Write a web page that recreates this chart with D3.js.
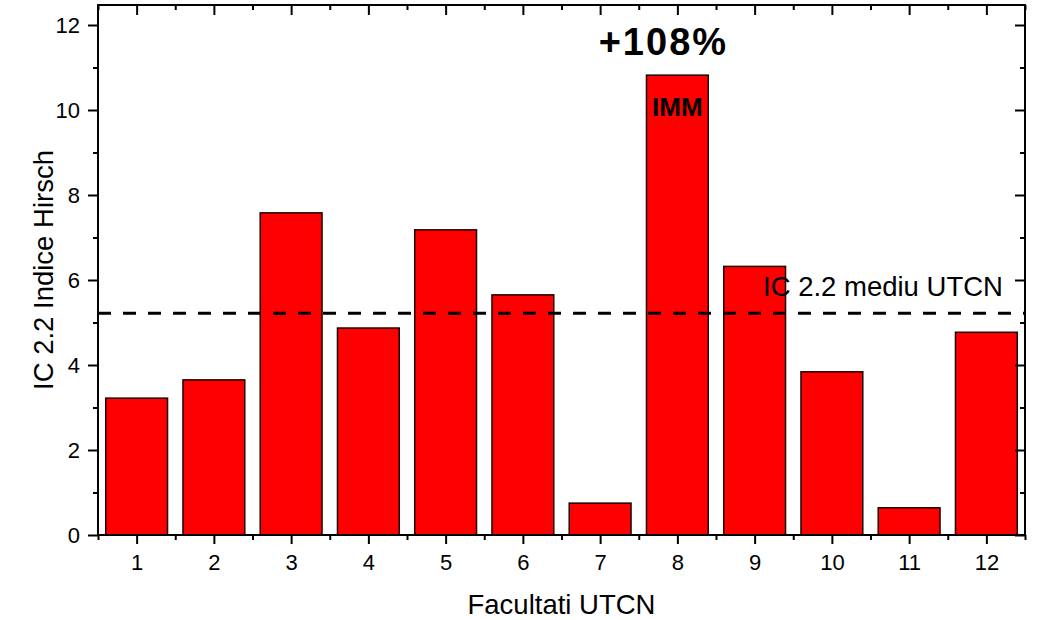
<!DOCTYPE html>
<html>
<head>
<meta charset="utf-8">
<script src="https://cdn.jsdelivr.net/npm/d3@7"></script>
<style>
  html, body { margin: 0; padding: 0; background: #fff; }
  svg { display: block; }
  text { font-family: "Liberation Sans", Arial, sans-serif; fill: #000; }
</style>
</head>
<body>
<svg id="chart" width="1041" height="620"></svg>
<script>
const categories = [1, 2, 3, 4, 5, 6, 7, 8, 9, 10, 11, 12];
const values = [3.22, 3.65, 7.58, 4.87, 7.18, 5.65, 0.75, 10.82, 6.32, 3.84, 0.64, 4.77];
const meanValue = 5.22;
const meanLabel = "IC 2.2 mediu UTCN";
const yTicks = [0, 2, 4, 6, 8, 10, 12];
const yMinorTicks = [1, 3, 5, 7, 9, 11];
const xMinorTicks = [0.5, 1.5, 2.5, 3.5, 4.5, 5.5, 6.5, 7.5, 8.5, 9.5, 10.5, 11.5, 12.5];
const xTitle = "Facultati UTCN";
const yTitle = "IC 2.2 Indice Hirsch";
const highlightCategory = 8;
const highlightLabel = "IMM";
const highlightPercent = "+108%";

const svg = d3.select("#chart");
const L = 98, R = 1025, T = 5, B = 535;

const x = d3.scaleLinear().domain([0.5, 12.5]).range([L, R]);
const y = d3.scaleLinear().domain([0, (B - T) / 42.5]).range([B, T]);
const barW = (x(1) - x(0)) * 0.8;

// bars
svg.append("g").selectAll("rect").data(categories).join("rect")
  .attr("x", (d) => x(d) - barW / 2)
  .attr("y", (d, i) => y(values[i]))
  .attr("width", barW)
  .attr("height", (d, i) => y(0) - y(values[i]))
  .attr("fill", "#ff0000")
  .attr("stroke", "#1a0000")
  .attr("stroke-width", 1.5);

// mean line
svg.append("line")
  .attr("x1", L).attr("x2", R)
  .attr("y1", y(meanValue)).attr("y2", y(meanValue))
  .attr("stroke", "#000").attr("stroke-width", 3)
  .attr("stroke-dasharray", "13,12");

svg.append("text")
  .attr("x", 763).attr("y", y(meanValue) - 17.5)
  .attr("font-size", 27.5)
  .text(meanLabel);

// axes
function styleAxis(g) {
  g.select(".domain").remove();
  g.selectAll(".tick line").attr("stroke", "#000").attr("stroke-width", 2);
  g.selectAll("text").attr("font-family", '"Liberation Sans", Arial, sans-serif').attr("fill", "#000");
}

svg.append("g").attr("transform", `translate(0,${B})`)
  .call(d3.axisBottom(x).tickValues(categories).tickSize(9).tickPadding(10).tickFormat(d3.format("d")))
  .call(styleAxis)
  .selectAll("text").attr("font-size", 22);
svg.append("g").attr("transform", `translate(0,${B})`)
  .call(d3.axisBottom(x).tickValues(xMinorTicks).tickSize(5).tickFormat(""))
  .call(styleAxis);

svg.append("g").attr("transform", `translate(0,${T})`)
  .call(d3.axisTop(x).tickValues(categories).tickSize(-10).tickFormat(""))
  .call(styleAxis);
svg.append("g").attr("transform", `translate(0,${T})`)
  .call(d3.axisTop(x).tickValues(xMinorTicks).tickSize(-5).tickFormat(""))
  .call(styleAxis);

svg.append("g").attr("transform", `translate(${L},0)`)
  .call(d3.axisLeft(y).tickValues(yTicks).tickSize(10).tickPadding(8).tickFormat(d3.format("d")))
  .call(styleAxis)
  .selectAll("text").attr("font-size", 22);
svg.append("g").attr("transform", `translate(${L},0)`)
  .call(d3.axisLeft(y).tickValues(yMinorTicks).tickSize(5).tickFormat(""))
  .call(styleAxis);

svg.append("g").attr("transform", `translate(${R},0)`)
  .call(d3.axisRight(y).tickValues(yTicks).tickSize(-10).tickFormat(""))
  .call(styleAxis);
svg.append("g").attr("transform", `translate(${R},0)`)
  .call(d3.axisRight(y).tickValues(yMinorTicks).tickSize(-5).tickFormat(""))
  .call(styleAxis);

// frame
svg.append("rect")
  .attr("x", L).attr("y", T).attr("width", R - L).attr("height", B - T)
  .attr("fill", "none").attr("stroke", "#000").attr("stroke-width", 2);

// titles
svg.append("text")
  .attr("x", (L + R) / 2).attr("y", 614)
  .attr("text-anchor", "middle").attr("font-size", 27.5)
  .text(xTitle);
svg.append("text")
  .attr("transform", `translate(53,${(T + B) / 2}) rotate(-90)`)
  .attr("text-anchor", "middle").attr("font-size", 27.5)
  .text(yTitle);

// annotations
const hv = values[categories.indexOf(highlightCategory)];
svg.append("text")
  .attr("x", x(highlightCategory)).attr("y", y(hv) + 41)
  .attr("text-anchor", "middle").attr("font-size", 26).attr("font-weight", "bold")
  .text(highlightLabel);
svg.append("text")
  .attr("x", x(highlightCategory) - 14).attr("y", 55)
  .attr("text-anchor", "middle").attr("font-size", 38).attr("font-weight", "bold")
  .attr("letter-spacing", 2)
  .text(highlightPercent);
</script>
</body>
</html>
